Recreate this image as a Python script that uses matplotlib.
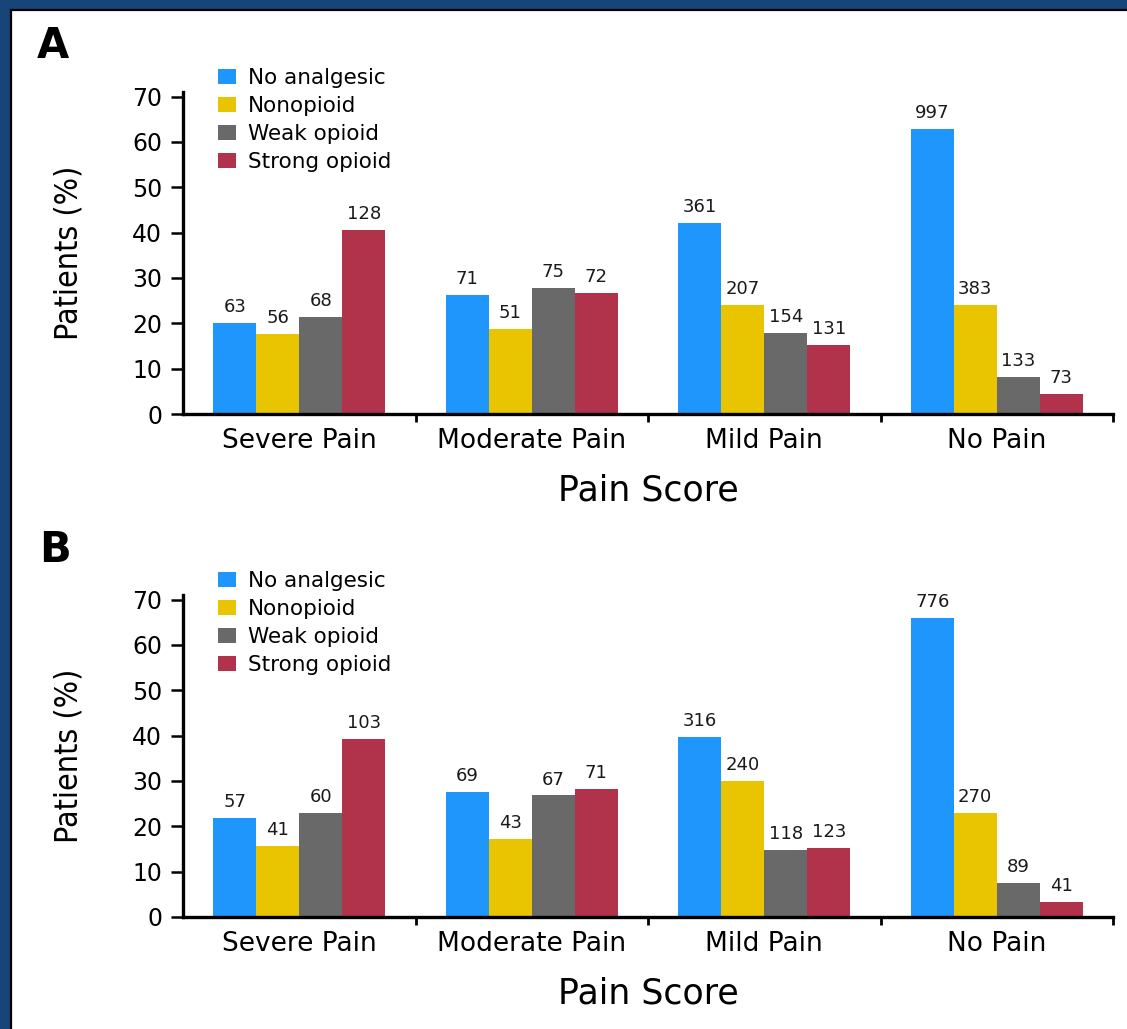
import matplotlib
matplotlib.use("Agg")
import matplotlib.pyplot as plt
import matplotlib.patches as mpatches
import numpy as np

# pain categories and treatment groups
categories = ["Severe Pain", "Moderate Pain", "Mild Pain", "No Pain"]
groups = ["No analgesic", "Nonopioid", "Weak opioid", "Strong opioid"]
colors = ["#1e96fc", "#e9c400", "#696969", "#b0324b"]

# panel A: percent of patients per group, and patient counts above the bars
pct_a = [
    [20.0, 26.3, 42.2, 62.8],   # No analgesic
    [17.7, 18.8, 24.1, 24.1],   # Nonopioid
    [21.4, 27.7, 17.8, 8.2],    # Weak opioid
    [40.6, 26.7, 15.2, 4.4],    # Strong opioid
]
n_a = [
    [63, 71, 361, 997],
    [56, 51, 207, 383],
    [68, 75, 154, 133],
    [128, 72, 131, 73],
]

# panel B
pct_b = [
    [21.9, 27.5, 39.6, 65.9],
    [15.7, 17.2, 30.0, 22.9],
    [22.9, 26.8, 14.7, 7.4],
    [39.3, 28.3, 15.3, 3.4],
]
n_b = [
    [57, 69, 316, 776],
    [41, 43, 240, 270],
    [60, 67, 118, 89],
    [103, 71, 123, 41],
]

W, H = 1127, 1029
fig = plt.figure(figsize=(W / 100, H / 100), dpi=100)
fig.patch.set_facecolor("#17457a")

# white page with a thin dark rule on the top and left
page = mpatches.Rectangle((12 / W, 0), 1, 1 - 11 / H, transform=fig.transFigure,
                          facecolor="white", edgecolor="none", zorder=-10)
fig.patches.append(page)
fig.lines.append(plt.Line2D([11 / W, 1], [1 - 10 / H, 1 - 10 / H], color="black",
                            lw=1.6, transform=fig.transFigure, zorder=-5))
fig.lines.append(plt.Line2D([11 / W, 11 / W], [0, 1 - 10 / H], color="black",
                            lw=1.6, transform=fig.transFigure, zorder=-5))

bar_w = 0.185
x = np.arange(len(categories))


def draw_panel(ax, pct, counts):
    ax.patch.set_alpha(0)
    for j, g in enumerate(groups):
        xs = x + (j - 1.5) * bar_w
        bars = ax.bar(xs, pct[j], width=bar_w, color=colors[j], label=g,
                      edgecolor="none", zorder=2)
        for b, n in zip(bars, counts[j]):
            ax.annotate(str(n), (b.get_x() + b.get_width() / 2, b.get_height()),
                        xytext=(0, 5), textcoords="offset points",
                        ha="center", va="bottom", fontsize=13, color="#1a1a1a")
    ax.set_xlim(-0.5, 3.5)
    ax.set_ylim(0, 71)
    ax.set_yticks(range(0, 80, 10))
    ax.set_xticks(x)
    ax.set_xticklabels(categories, fontsize=19)
    ax.set_xticks([0.5, 1.5, 2.5, 3.5], minor=True)
    ax.tick_params(axis="x", which="major", length=0, pad=10)
    ax.tick_params(axis="x", which="minor", length=6, width=2)
    ax.tick_params(axis="y", length=9, width=1.8, labelsize=17, pad=6)
    for s in ["top", "right"]:
        ax.spines[s].set_visible(False)
    for s in ["left", "bottom"]:
        ax.spines[s].set_linewidth(2.4)
    ax.set_xlabel("Pain Score", fontsize=25, labelpad=14)
    ax.set_ylabel("Patients (%)", fontsize=23, fontstretch="condensed",
                  labelpad=34)
    ax.legend(loc="upper left", bbox_to_anchor=(0.028, 1.1), frameon=False,
              fontsize=15.5, handlelength=0.85, handleheight=0.7,
              handletextpad=0.55, labelspacing=0.36, borderaxespad=0)


ax_a = fig.add_axes([183 / W, 1 - 414 / H, 930 / W, 322 / H])
draw_panel(ax_a, pct_a, n_a)
ax_b = fig.add_axes([183 / W, 1 - 917 / H, 930 / W, 322 / H])
draw_panel(ax_b, pct_b, n_b)

fig.text(37 / W, 1 - 58 / H, "A", fontsize=30, fontweight="bold", va="baseline")
fig.text(39 / W, 1 - 562 / H, "B", fontsize=30, fontweight="bold", va="baseline")

fig.savefig("out.png", dpi=100, facecolor=fig.get_facecolor())
